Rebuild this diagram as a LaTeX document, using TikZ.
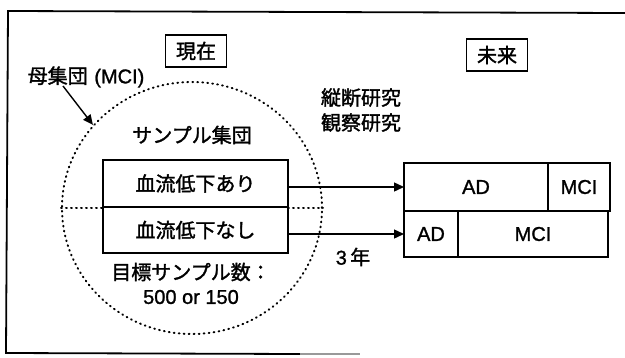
\documentclass[tikz,border=0pt]{standalone}
\usepackage{fontspec}
\setmainfont{Liberation Sans}[FakeBold=1.2]
\newfontfamily\jp{Noto Sans CJK JP}[FakeBold=1.6]
\usetikzlibrary{shapes.geometric,arrows.meta}
\tikzset{
  txt/.style={inner sep=0pt, font=\fontsize{20}{25}\selectfont},
  cell/.style={draw, line width=1.5pt, inner sep=0pt, outer sep=0pt, font=\fontsize{20}{25}\selectfont},
  tag/.style={draw, line width=1.3pt, inner sep=0pt, minimum width=61pt, minimum height=32pt, font=\fontsize{20}{25}\selectfont\jp},
  arr/.style={line width=1.4pt, -{Triangle[length=10pt,width=9pt]}},
  dots/.style={line width=2pt, dash pattern=on 0.8pt off 4.2pt, line cap=round},
  frame/.style={line width=1.8pt}
}
\begin{document}
\begin{tikzpicture}[x=1pt,y=-1pt]
\useasboundingbox (0,0) rectangle (625,357);
% frame (open on the right, as in the scan)
\draw[frame] (625,13) -- (8,11) -- (6,353) -- (300,354);
\draw[frame, black!40] (300,354) -- (360,354);

% labels at the top
\node[tag] (now) at (196,51) {現在};
\node[tag] (fut) at (497,55) {未来};
\node[txt] (pop) at (86,77) {{\jp 母集団}\,\,(MCI)};
\node[txt, align=center, font=\fontsize{20}{25}\selectfont\jp] (study) at (361,110) {縦断研究\\観察研究};

% population circle
\node[ellipse, draw, dots, minimum width=260pt, minimum height=252pt, inner sep=0pt] (circ) at (192,208) {};
\node[txt, font=\fontsize{20}{25}\selectfont\jp] (samp) at (192,135) {サンプル集団};

% sample groups
\node[cell, minimum width=185pt, minimum height=47pt] (s1) at (195.5,183.5) {\jp 血流低下あり};
\node[cell, minimum width=185pt, minimum height=46pt] (s2) at (195.5,230) {\jp 血流低下なし};

% dotted split line
\draw[dots] (circ.west) -- (circ.west -| s1.west);
\draw[dots] (circ.east -| s1.east) -- (circ.east);

\node[txt, font=\fontsize{20}{25}\selectfont\jp] (goal) at (191,272) {目標サンプル数：};
\node[txt] (num) at (191,297) {500 or 150};

% future outcome cells
\node[cell, minimum width=144pt, minimum height=48pt] (r1a) at (476,187) {AD};
\node[cell, minimum width=62pt, minimum height=48pt] (r1b) at (579,187) {MCI};
\node[cell, minimum width=54pt, minimum height=46pt] (r2a) at (431,234) {AD};
\node[cell, minimum width=150pt, minimum height=46pt] (r2b) at (533,234) {MCI};

% arrows
\draw[arr] (s1.east |- r1a.west) -- (r1a.west);
\draw[arr] (s2.east |- r2a.west) -- (r2a.west);
\node[txt] (yr) at (353,257) {3\,{\jp 年}};

\coordinate (popfoot) at (63,86);
\draw[arr] (popfoot) -- (circ.140);
\end{tikzpicture}
\end{document}
